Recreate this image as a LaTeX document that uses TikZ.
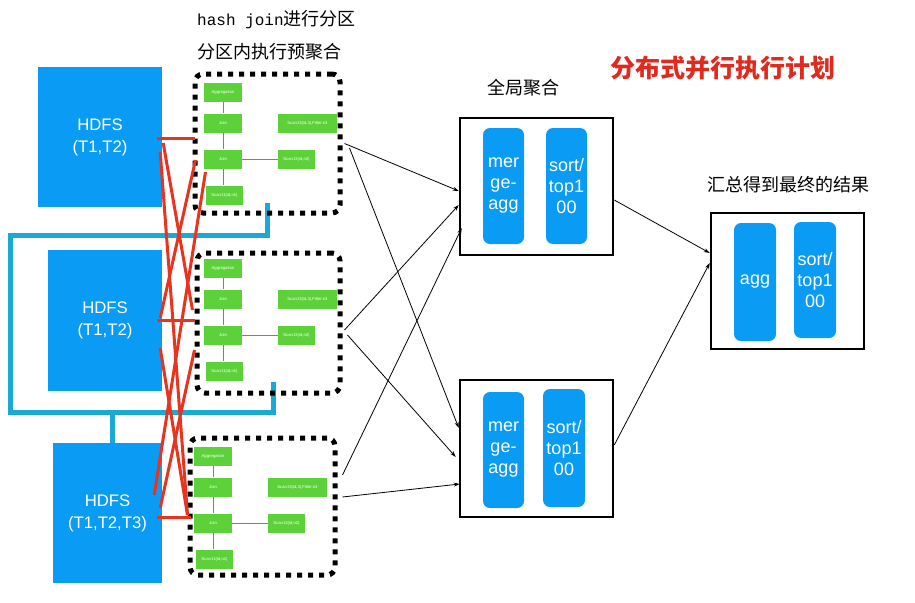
\documentclass[tikz,border=0pt]{standalone}
\usepackage{fontspec}
\setmainfont{Liberation Sans}
\newfontfamily\cjk{Noto Sans CJK SC}
\newfontfamily\monofnt{Liberation Mono}
\usetikzlibrary{arrows.meta,calc}
\definecolor{hdfsblue}{HTML}{0A9CF5}
\definecolor{gr}{HTML}{5CD13A}
\definecolor{cy}{HTML}{1AA8D5}
\definecolor{rd}{HTML}{E8341F}
\definecolor{titlered}{HTML}{E02A1E}
\newcommand\partition[3]{%
  \node[gbox,minimum width=38] (#1a) at (#2+19,#3+9.5) {Aggregation};
  \node[gbox,minimum width=38] (#1j) at (#2+19,#3+40) {Join};
  \node[gbox,minimum width=38] (#1k) at (#2+19,#3+76) {Join};
  \node[gbox,minimum width=37] (#1s) at (#2+20.5,#3+112) {Scan:t1(id,n1)};
  \node[gbox,minimum width=59] (#1t) at (#2+103.5,#3+40) {Scan:t3(id,3),Filter:n3};
  \node[gbox,minimum width=37] (#1u) at (#2+92.5,#3+76) {Scan:t2(id,n2)};
  \draw[gline] (#1a) -- (#1j);
  \draw[gline] (#1j) -- (#1k);
  \draw[gline] (#1k.south) -- (#1k.south |- #1s.north);
  \draw[gline] (#1k) -- (#1u);
}
\begin{document}
\begin{tikzpicture}[x=1pt,y=-1pt,
  hdfs/.style={fill=hdfsblue,text=white,inner sep=0,align=center,font=\fontsize{16.7}{22}\selectfont},
  dotbox/.style={draw=black,line width=5,dash pattern=on 5 off 6,rounded corners=8,inner sep=0},
  gbox/.style={fill=gr,text=white,inner sep=0,minimum height=19,font=\fontsize{4.2}{5}\selectfont},
  gline/.style={draw=gray,line width=0.7},
  gbox2/.style={draw=black,line width=2.5,inner sep=0},
  pill/.style={fill=hdfsblue,text=white,rounded corners=7,inner sep=0,align=center,font=\fontsize{18}{21}\selectfont},
  redl/.style={draw=rd,line width=3},
  cyl/.style={draw=cy,line width=5},
  arr/.style={draw=black,line width=0.8,-{Stealth[length=6,width=4]}},
  lab/.style={inner sep=0,font=\cjk\fontsize{18}{20}\selectfont}
]
\useasboundingbox (0,0) rectangle (915,602);

% HDFS sources
\node[hdfs,minimum width=124,minimum height=140] (h1) at (100,137) {HDFS\\(T1,T2)};
\node[hdfs,minimum width=114,minimum height=141] (h2) at (105,320.5) {HDFS\\(T1,T2)};
\node[hdfs,minimum width=109,minimum height=140] (h3) at (107.5,513) {HDFS\\(T1,T2,T3)};

% cyan bracket
\draw[cyl] (267,203) -- (267,235) -- (10,235) -- (10,412) -- (273,412) -- (273,382);
\draw[cyl] (112,412) -- (112,443);

% partitions
\node[dotbox,minimum width=145,minimum height=139] (p1) at (267.5,143.5) {};
\node[dotbox,minimum width=143,minimum height=140] (p2) at (268.5,323) {};
\node[dotbox,minimum width=145,minimum height=137] (p3) at (262.5,506.5) {};
\partition{a}{204}{83}
\partition{b}{204}{259}
\partition{c}{194}{447}

% red shuffle lines
\draw[redl] ($(h1.east)+(-5,1)$) -- ($(p1.west)+(2,-5.5)$);
\draw[redl] ($(h2.east)+(-5,-0.5)$) -- ($(p2.west)+(0,-3)$);
\draw[redl] ($(h3.east)+(-5,4)$) -- ($(p3.west)+(3,10.5)$);
\draw[redl] ($(h1.east)+(1,6)$) -- ($(p2.west)+(-2,-13)$);
\draw[redl] ($(h1.east)+(-2,15)$) -- ($(p3.west)+(0,8.5)$);
\draw[redl] ($(p1.west)+(3,16.5)$) -- ($(h2.east)+(-2,-2.5)$);
\draw[redl] ($(p1.west)+(13,28.5)$) -- ($(h3.east)+(-8,-18)$);
\draw[redl] ($(h2.east)+(-2,27.5)$) -- ($(p3.west)+(0,8.5)$);
\draw[redl] ($(h3.east)+(-2,-5)$) -- ($(p2.west)+(0,27)$);

% global aggregation boxes
\node[gbox2,minimum width=153,minimum height=137] (g1) at (536.5,186.5) {};
\node[gbox2,minimum width=153,minimum height=137] (g2) at (536.5,448.5) {};
\node[gbox2,minimum width=153,minimum height=136] (f) at (787.5,281) {};

\node[pill,minimum width=41,minimum height=116] (g1m) at (503.5,186) {mer\\ge-\\agg};
\node[pill,minimum width=41,minimum height=116] (g1s) at (566.5,186) {sort/\\top1\\00};
\node[pill,minimum width=41,minimum height=116] (g2m) at (503.5,450) {mer\\ge-\\agg};
\node[pill,minimum width=42,minimum height=118] (g2s) at (564,448) {sort/\\top1\\00};
\node[pill,minimum width=42,minimum height=118] (fa) at (755,282) {agg};
\node[pill,minimum width=42,minimum height=116] (fs) at (815,280) {sort/\\top1\\00};

% arrows
\draw[arr] ($(p1.east)+(2,0)$) -- ($(g1.west)+(0,4.5)$);
\draw[arr] ($(p1.east)+(7,4.5)$) -- ($(g2.west)+(0,-20.5)$);
\draw[arr] ($(p2.east)+(2,7)$) -- ($(g1.west)+(0,18.5)$);
\draw[arr] ($(p2.east)+(5,12)$) -- ($(g2.west)+(-3,8.5)$);
\draw[arr] ($(p3.east)+(5,-31.5)$) -- ($(g1.west)+(3,41.5)$);
\draw[arr] ($(p3.east)+(5,-9.5)$) -- ($(g2.west)+(1,35.5)$);
\draw[arr] ($(g1.east)+(0,13.5)$) -- ($(f.west)+(0,-28)$);
\draw[arr] ($(g2.east)+(0,-3.5)$) -- ($(f.west)+(0,-18)$);

% labels
\node[lab,anchor=west] (l1) at (197,20) {{\monofnt\fontsize{16}{20}\selectfont hash join}进行分区};
\node[lab,anchor=west] (l2) at (197,52) {分区内执行预聚合};
\node[lab] (l3) at (523,88) {全局聚合};
\node[lab,text=titlered,font=\cjk\bfseries\fontsize{25}{28}\selectfont] (l4) at (723,68) {分布式并行执行计划};
\node[lab] (l5) at (788,185) {汇总得到最终的结果};
\end{tikzpicture}
\end{document}
